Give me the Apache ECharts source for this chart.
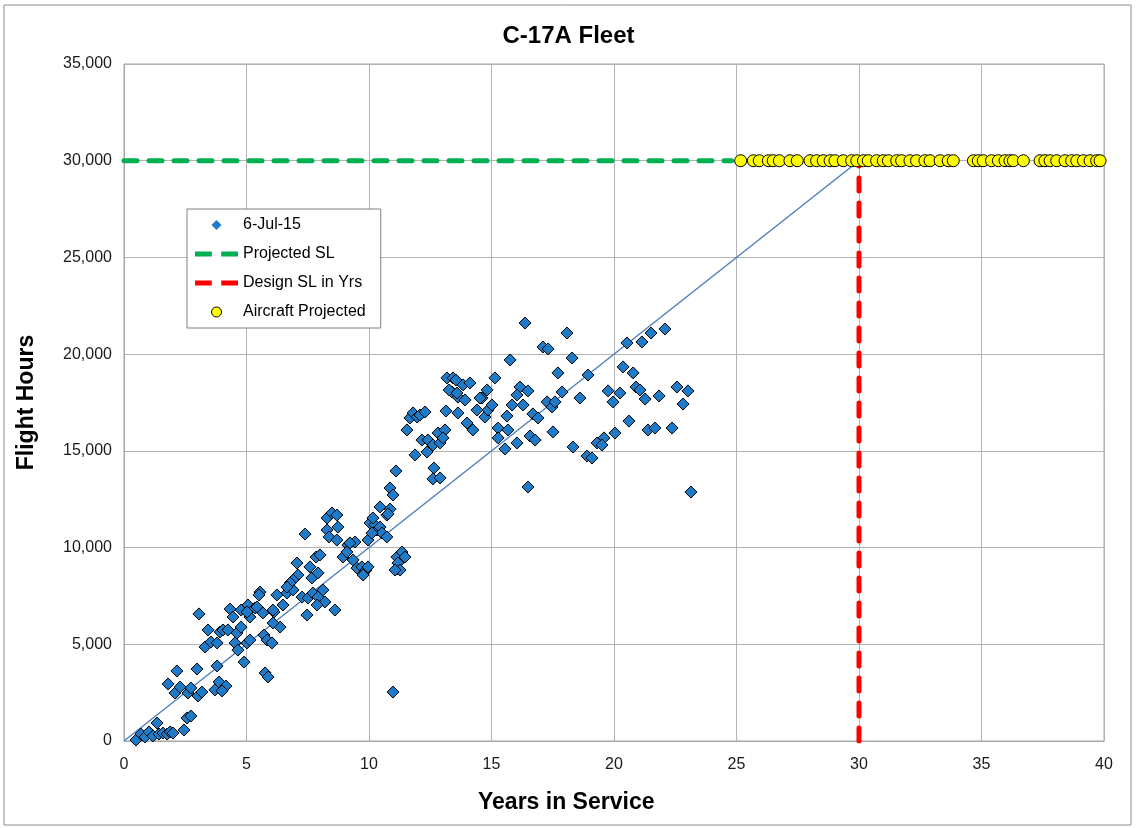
<!DOCTYPE html>
<html>
<head>
<meta charset="utf-8">
<title>C-17A Fleet</title>
<script src="https://cdn.jsdelivr.net/npm/echarts@6/dist/echarts.min.js"></script>
<style>
  html, body { margin: 0; padding: 0; background: #fff; }
  #chart { width: 1137px; height: 828px; }
</style>
</head>
<body>
<div id="chart"></div>
<script>
// flight hours per aircraft as of 6-Jul-15 (years in service, hours)
const fleetYears = [
  0.49, 0.69, 0.86, 1.02, 1.18, 1.35, 1.43, 1.59, 1.76, 1.88,
  2.00, 2.45, 2.57, 2.73, 1.80, 2.16, 2.08, 2.29, 2.61, 2.98,
  3.02, 3.18, 2.73, 3.80, 3.88, 3.71, 4.16, 4.00, 3.06, 3.31,
  3.43, 3.55, 3.80, 3.92, 4.04, 4.33, 4.24, 4.45, 4.61, 4.53,
  4.65, 4.78, 4.90, 4.78, 5.06, 5.14, 5.35, 5.43, 5.55, 5.51,
  5.67, 5.02, 5.14, 5.71, 5.84, 6.04, 5.76, 5.88, 6.12, 6.24,
  6.49, 6.65, 6.90, 6.37, 6.08, 7.39, 8.29, 8.29, 8.49, 8.69,
  8.73, 8.37, 8.69, 8.94, 9.14, 9.43, 9.35, 9.51, 9.71, 9.88,
  9.76, 10.04, 10.24, 10.33, 10.45, 10.53, 10.73, 10.45, 10.86, 10.98,
  9.96, 7.84, 8.00, 7.59, 7.67, 7.92, 7.06, 7.10, 6.90, 6.78,
  6.65, 5.02, 6.08, 7.27, 7.51, 7.71, 7.92, 8.12, 8.20, 7.88,
  7.47, 8.61, 11.14, 11.14, 11.10, 10.86, 10.78, 10.16, 10.12, 10.73,
  9.22, 9.10, 9.96, 11.35, 11.47, 11.18, 11.27, 11.06, 11.55, 11.67,
  11.80, 11.96, 12.08, 12.29, 11.88, 12.16, 12.37, 12.41, 12.61, 12.82,
  12.90, 13.10, 13.02, 12.65, 12.61, 12.90, 13.14, 13.39, 13.63, 13.63,
  14.00, 14.24, 14.41, 14.61, 14.73, 16.37, 17.10, 17.31, 18.08, 18.29,
  15.76, 15.14, 14.82, 14.53, 14.86, 15.02, 13.18, 13.43, 13.55, 13.84,
  14.12, 13.27, 13.59, 13.92, 16.16, 16.04, 16.49, 15.84, 16.29, 15.63,
  15.27, 15.67, 15.27, 15.55, 16.04, 16.57, 16.78, 16.69, 16.90, 17.27,
  17.47, 17.59, 17.88, 17.71, 18.61, 17.51, 18.33, 16.49, 18.94, 19.76,
  20.24, 19.96, 20.37, 20.78, 20.90, 21.06, 21.27, 21.84, 22.57, 23.02,
  22.82, 20.53, 21.14, 21.51, 22.08, 20.61, 20.04, 19.59, 19.31, 19.51,
  21.39, 21.67, 22.37, 18.90, 19.10, 23.14, 10.98
];
const fleetHours = [
  50, 360, 210, 470, 260, 930, 360, 410, 360, 470,
  410, 570, 1190, 1290, 2950, 3620, 2480, 2790, 2480, 3720,
  2330, 2530, 2740, 3880, 3050, 2640, 2840, 2590, 6570, 4860,
  5740, 5120, 5070, 5640, 5740, 6820, 5740, 6410, 5580, 5070,
  4700, 6770, 4080, 5890, 7030, 6410, 6880, 6930, 7700, 7550,
  6620, 5070, 5220, 5480, 5220, 5070, 3520, 3310, 6670, 7550,
  7030, 7650, 7810, 5890, 6100, 10700, 11530, 10910, 11790, 11680,
  11060, 10550, 10390, 9510, 10130, 10290, 9360, 8940, 9000, 8840,
  8580, 11270, 11170, 10910, 11060, 10750, 11680, 12100, 13080, 12720,
  10390, 9510, 9620, 9000, 8430, 8690, 9200, 8580, 8320, 8170,
  7960, 6670, 6770, 7440, 7390, 7650, 7440, 7810, 7190, 7030,
  6510, 6770, 9510, 8890, 13960, 11990, 11740, 11530, 10750, 10550,
  10240, 9770, 9000, 9770, 9510, 9200, 8840, 8840, 16080, 16700,
  16960, 16750, 16850, 17010, 14790, 15560, 14940, 15560, 15300, 15920,
  15410, 16080, 15670, 14110, 13550, 13600, 17060, 18040, 17780, 16960,
  16440, 16080, 17110, 17730, 16750, 21610, 20370, 20270, 21090, 19800,
  19700, 18770, 18150, 17730, 17110, 17370, 18770, 18770, 18660, 18410,
  18510, 18150, 17990, 17630, 18300, 17890, 18100, 17370, 17370, 16800,
  16180, 16080, 15670, 15100, 15410, 15770, 15560, 16910, 16700, 17530,
  17270, 17530, 18040, 19030, 17730, 15980, 15200, 13130, 18920, 18100,
  17990, 17530, 19340, 19030, 18300, 18150, 17680, 17840, 18300, 18100,
  17420, 20580, 20630, 21090, 21300, 16540, 15920, 15670, 15410, 15300,
  16080, 16180, 16180, 14730, 14630, 12870, 2530
];

// year each aircraft is projected to reach the service limit
const projectedYears = [
  25.17, 25.69, 25.93, 26.30, 26.50, 26.75, 27.18, 27.48, 28.00, 28.27,
  28.54, 28.82, 29.02, 29.36, 29.70, 29.91, 30.18, 30.38, 30.72, 30.99,
  31.20, 31.54, 31.74, 32.08, 32.35, 32.69, 32.90, 33.31, 33.64, 33.85,
  34.67, 34.87, 35.07, 35.41, 35.69, 35.96, 36.16, 36.30, 36.71, 37.39,
  37.59, 37.80, 38.07, 38.41, 38.68, 38.89, 39.16, 39.43, 39.70, 39.84
];

const serviceLimitHours = 30000;
const designLifeYears = 30;
const slLineEnd = 24.8;
const trendEnd = [30, 30000];

const xTicks = { min: 0, max: 40, interval: 5 };
const yTicks = { min: 0, max: 35000, interval: 5000 };

const fleetPoints = fleetYears.map((x, i) => [x, fleetHours[i]]);
const projectedPoints = projectedYears.map(x => [x, serviceLimitHours]);

const chart = echarts.init(document.getElementById('chart'));
const font = 'Arial, "Liberation Sans", sans-serif';

// legend icons: two dashes for the dashed lines
const dashIcon = 'path://M0,0 L16,0 L16,5 L0,5 Z M25,0 L41,0 L41,5 L25,5 Z';
const diamondIcon = 'path://M5,0 L10,5 L5,10 L0,5 Z';

chart.setOption({
  animation: false,
  backgroundColor: '#fff',
  textStyle: { fontFamily: font },
  title: {
    text: 'C-17A Fleet',
    left: 'center',
    top: 19,
    textStyle: { fontSize: 24, fontWeight: 'bold', color: '#000', fontFamily: font }
  },
  grid: {
    left: 124, right: 33, top: 64, bottom: 87,
    show: true, borderColor: '#a6a6a6', borderWidth: 1
  },
  legend: {
    orient: 'vertical',
    left: 187, top: 209,
    padding: [8, 15, 8, 8],
    itemWidth: 43, itemHeight: 10, itemGap: 13,
    symbolKeepAspect: true,
    backgroundColor: '#fff',
    borderColor: '#7f7f7f', borderWidth: 1,
    textStyle: { fontSize: 16, color: '#000', fontFamily: font },
    data: [
      { name: '6-Jul-15', icon: diamondIcon, itemStyle: { color: '#1f7bc8', borderWidth: 0 } },
      { name: 'Projected SL', icon: dashIcon, itemStyle: { color: '#00b050', borderWidth: 0 } },
      { name: 'Design SL in Yrs', icon: dashIcon, itemStyle: { color: '#ff0000', borderWidth: 0 } },
      { name: 'Aircraft Projected', icon: 'path://M5,0 A5,5 0 1,1 4.99,0 Z',
        itemStyle: { color: '#ffff00', borderColor: '#000', borderWidth: 1 } }
    ]
  },
  xAxis: {
    type: 'value',
    min: xTicks.min, max: xTicks.max, interval: xTicks.interval,
    axisLine: { show: true, lineStyle: { color: '#a6a6a6' } },
    axisTick: { show: false },
    axisLabel: { fontSize: 16, color: '#1a1a1a', margin: 16 },
    splitLine: { show: true, lineStyle: { color: '#b3b3b3', width: 1 } }
  },
  yAxis: {
    type: 'value',
    min: yTicks.min, max: yTicks.max, interval: yTicks.interval,
    name: 'Flight Hours',
    nameLocation: 'middle',
    nameGap: 86,
    nameTextStyle: { fontSize: 23, fontWeight: 'bold', color: '#000' },
    axisLine: { show: true, lineStyle: { color: '#a6a6a6' } },
    axisTick: { show: false },
    axisLabel: { fontSize: 16, color: '#1a1a1a', margin: 12 },
    splitLine: { show: true, lineStyle: { color: '#b3b3b3', width: 1 } }
  },
  graphic: [
    {
      type: 'rect', silent: true, z: -10,
      shape: { x: 4, y: 5, width: 1127, height: 820 },
      style: { fill: 'none', stroke: '#8c8c8c', lineWidth: 1 }
    },
    {
      type: 'text', left: 478, top: 791,
      style: { text: 'Years in Service', font: 'bold 23px ' + font, fill: '#000' }
    }
  ],
  series: [
    {
      name: 'trend',
      type: 'line',
      data: [[0, 0], trendEnd],
      symbol: 'none',
      lineStyle: { color: '#4f81bd', width: 1.5 },
      z: 3
    },
    {
      name: '6-Jul-15',
      type: 'scatter',
      data: fleetPoints,
      symbol: 'diamond',
      symbolSize: 12,
      itemStyle: { color: '#1f7bc8', borderColor: '#000', borderWidth: 1, opacity: 1 },
      z: 4
    },
    {
      name: 'Projected SL',
      type: 'line',
      data: [[0, serviceLimitHours], [slLineEnd, serviceLimitHours]],
      symbol: 'none',
      itemStyle: { color: '#00b050' },
      lineStyle: { color: '#00b050', width: 5, type: [13, 12], cap: 'round' },
      z: 2
    },
    {
      name: 'Design SL in Yrs',
      type: 'line',
      data: [[designLifeYears, 0], [designLifeYears, serviceLimitHours]],
      symbol: 'none',
      itemStyle: { color: '#ff0000' },
      lineStyle: { color: '#ff0000', width: 5, type: [13, 12], cap: 'round' },
      z: 2
    },
    {
      name: 'Aircraft Projected',
      type: 'scatter',
      data: projectedPoints,
      symbol: 'circle',
      symbolSize: 12,
      itemStyle: { color: '#ffff00', borderColor: '#000', borderWidth: 1, opacity: 1 },
      z: 5
    }
  ]
});
</script>
</body>
</html>
